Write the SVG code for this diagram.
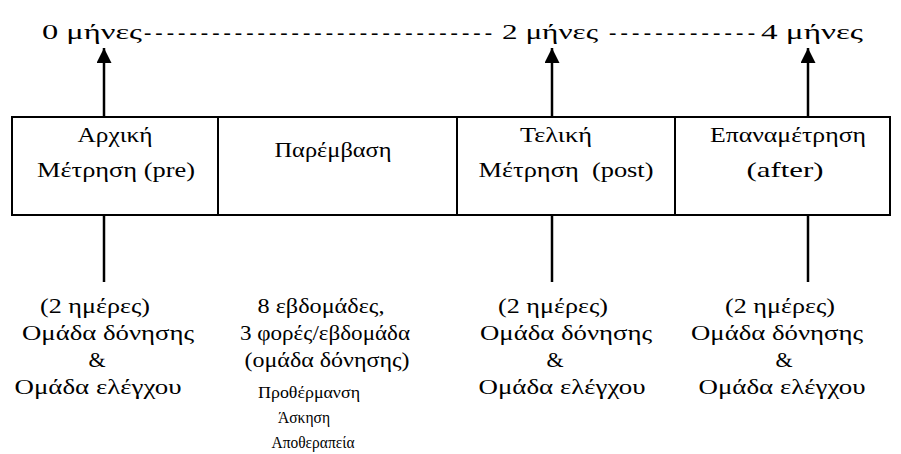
<svg xmlns="http://www.w3.org/2000/svg" width="901" height="454" viewBox="0 0 901 454">
<defs>
<marker id="ah" markerWidth="16" markerHeight="16" refX="15" refY="7.5" orient="auto" markerUnits="userSpaceOnUse">
<path d="M0,0 L15,7.5 L0,15 Z" fill="#000"/>
</marker>
<style>
text{fill:#000;text-anchor:middle;font-family:"Liberation Serif","Times New Roman","DejaVu Serif",serif}
.t{font-size:22px}
.s{font-size:16px}
.box{fill:#fff;stroke:#000;stroke-width:2}
.ln{stroke:#000;stroke-width:2.5;fill:none}
</style>
</defs>
<rect width="901" height="454" fill="#fff"/>
<g id="timeline">
<text class="t" x="92" y="39" textLength="100" lengthAdjust="spacingAndGlyphs">0 μήνες</text>
<text class="t" x="318" y="39" textLength="348" lengthAdjust="spacing">-------------------------------</text>
<text class="t" x="550" y="39" textLength="96" lengthAdjust="spacingAndGlyphs">2 μήνες</text>
<text class="t" x="682" y="39" textLength="146" lengthAdjust="spacing">-------------</text>
<text class="t" x="812" y="39" textLength="102" lengthAdjust="spacingAndGlyphs">4 μήνες</text>
</g>
<g id="connectors">
<line class="ln" x1="104" y1="117" x2="104" y2="48" marker-end="url(#ah)"/>
<line class="ln" x1="552" y1="117" x2="552" y2="48" marker-end="url(#ah)"/>
<line class="ln" x1="808" y1="117" x2="808" y2="48" marker-end="url(#ah)"/>
<line class="ln" x1="104" y1="215" x2="104" y2="282"/>
<line class="ln" x1="552" y1="215" x2="552" y2="282"/>
<line class="ln" x1="808" y1="215" x2="808" y2="282"/>
</g>
<g id="n1">
<rect class="box" x="12" y="117" width="206" height="98"/>
<text class="t" x="115" y="142" textLength="75" lengthAdjust="spacingAndGlyphs">Αρχική</text>
<text class="t" x="116" y="177" textLength="158" lengthAdjust="spacingAndGlyphs">Μέτρηση (pre)</text>
</g>
<g id="n2">
<rect class="box" x="218" y="117" width="239" height="98"/>
<text class="t" x="333" y="157" textLength="117" lengthAdjust="spacingAndGlyphs">Παρέμβαση</text>
</g>
<g id="n3">
<rect class="box" x="457" y="117" width="218" height="98"/>
<text class="t" x="556" y="142" textLength="72" lengthAdjust="spacingAndGlyphs">Τελική</text>
<text class="t" x="566" y="177" xml:space="preserve" textLength="175" lengthAdjust="spacingAndGlyphs">Μέτρηση  (post)</text>
</g>
<g id="n4">
<rect class="box" x="675" y="117" width="215" height="98"/>
<text class="t" x="788" y="142" textLength="156" lengthAdjust="spacingAndGlyphs">Επαναμέτρηση</text>
<text class="t" x="785" y="177" textLength="77" lengthAdjust="spacingAndGlyphs">(after)</text>
</g>
<g id="d1">
<text class="t" x="95" y="313" textLength="110" lengthAdjust="spacingAndGlyphs">(2 ημέρες)</text>
<text class="t" x="108" y="340" textLength="172" lengthAdjust="spacingAndGlyphs">Ομάδα δόνησης</text>
<text class="t" x="97" y="367">&amp;</text>
<text class="t" x="98" y="394" textLength="167" lengthAdjust="spacingAndGlyphs">Ομάδα ελέγχου</text>
</g>
<g id="d2">
<text class="t" x="321" y="313" textLength="127" lengthAdjust="spacingAndGlyphs">8 εβδομάδες,</text>
<text class="t" x="325" y="340" textLength="170" lengthAdjust="spacingAndGlyphs">3 φορές/εβδομάδα</text>
<text class="t" x="327" y="367" textLength="165" lengthAdjust="spacingAndGlyphs">(ομάδα δόνησης)</text>
<text class="s" x="309" y="398" textLength="102" lengthAdjust="spacingAndGlyphs">Προθέρμανση</text>
<text class="s" x="304" y="423" textLength="52" lengthAdjust="spacingAndGlyphs">Άσκηση</text>
<text class="s" x="313" y="448" textLength="83" lengthAdjust="spacingAndGlyphs">Αποθεραπεία</text>
</g>
<g id="d3">
<text class="t" x="553" y="313" textLength="110" lengthAdjust="spacingAndGlyphs">(2 ημέρες)</text>
<text class="t" x="566" y="340" textLength="172" lengthAdjust="spacingAndGlyphs">Ομάδα δόνησης</text>
<text class="t" x="555" y="367">&amp;</text>
<text class="t" x="562" y="394" textLength="167" lengthAdjust="spacingAndGlyphs">Ομάδα ελέγχου</text>
</g>
<g id="d4">
<text class="t" x="780" y="313" textLength="110" lengthAdjust="spacingAndGlyphs">(2 ημέρες)</text>
<text class="t" x="777" y="340" textLength="172" lengthAdjust="spacingAndGlyphs">Ομάδα δόνησης</text>
<text class="t" x="784" y="367">&amp;</text>
<text class="t" x="782" y="394" textLength="167" lengthAdjust="spacingAndGlyphs">Ομάδα ελέγχου</text>
</g>
</svg>
